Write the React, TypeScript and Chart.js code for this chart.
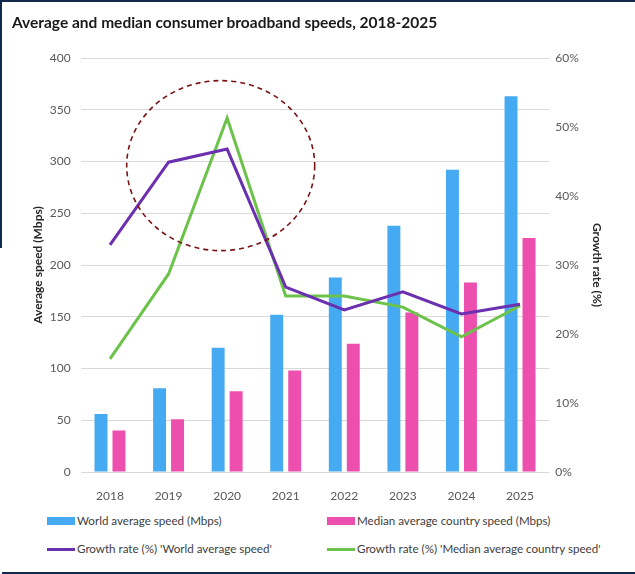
import React, { useEffect, useRef } from "react";
import { Chart, registerables } from "chart.js";

Chart.register(...registerables);

// ---- data ----
const YEARS = ["2018", "2019", "2020", "2021", "2022", "2023", "2024", "2025"];
const WORLD_AVG_SPEED = [56, 81, 120, 152, 188, 238, 292, 363];
const MEDIAN_COUNTRY_SPEED = [40, 51, 78, 98, 124, 154, 183, 226];
const GROWTH_WORLD = [32.9, 44.9, 46.8, 26.8, 23.5, 26.1, 22.9, 24.3];
const GROWTH_MEDIAN = [16.4, 28.7, 51.3, 25.5, 25.5, 23.9, 19.6, 24.1];
const SPEED_AXIS = { min: 0, max: 400, step: 50 };
const GROWTH_AXIS = { min: 0, max: 60, step: 10 };

const TITLE = "Average and median consumer broadband speeds, 2018-2025";
const LEGEND_LABELS = [
  "World average speed (Mbps)",
  "Median average country speed (Mbps)",
  "Growth rate (%) 'World average speed'",
  "Growth rate (%) 'Median average country speed'",
];

// highlight annotation (around the 2019-2020 growth peak)
const HIGHLIGHT = { index: 1.89, value: 296 };

const BLUE = "#46aaf2";
const PINK = "#ec4fae";
const PURPLE = "#6a30b0";
const GREEN = "#6cc24a";
const NAVY = "#13294b";
const FONT = "Lato, 'Open Sans', sans-serif";

const ellipsePlugin = {
  id: "highlightEllipse",
  afterDatasetsDraw(chart: any) {
    const xs = chart.scales.x;
    const ys = chart.scales.y;
    const i0 = Math.floor(HIGHLIGHT.index);
    const p0 = xs.getPixelForValue(i0);
    const p1 = xs.getPixelForValue(i0 + 1);
    const cx = p0 + (HIGHLIGHT.index - i0) * (p1 - p0);
    const cy = ys.getPixelForValue(HIGHLIGHT.value);
    const ctx = chart.ctx;
    ctx.save();
    ctx.setLineDash([5, 4]);
    ctx.strokeStyle = "#7a1414";
    ctx.lineWidth = 1.6;
    ctx.beginPath();
    ctx.ellipse(cx, cy, 94, 85, 0, 0, Math.PI * 2);
    ctx.stroke();
    ctx.restore();
  },
};

function ChartCanvas() {
  const ref = useRef<HTMLCanvasElement | null>(null);
  useEffect(() => {
    if (!ref.current) return;
    const tickFont = { family: FONT, size: 12 };
    const chart = new Chart(ref.current, {
      type: "bar",
      data: {
        labels: YEARS,
        datasets: [
          {
            type: "bar",
            label: LEGEND_LABELS[0],
            data: WORLD_AVG_SPEED,
            backgroundColor: BLUE,
            yAxisID: "y",
            order: 2,
            barPercentage: 0.72,
            categoryPercentage: 0.614,
          },
          {
            type: "bar",
            label: LEGEND_LABELS[1],
            data: MEDIAN_COUNTRY_SPEED,
            backgroundColor: PINK,
            yAxisID: "y",
            order: 2,
            barPercentage: 0.72,
            categoryPercentage: 0.614,
          },
          {
            type: "line",
            label: LEGEND_LABELS[2],
            data: GROWTH_WORLD,
            borderColor: PURPLE,
            backgroundColor: PURPLE,
            borderWidth: 3,
            pointRadius: 0,
            tension: 0,
            yAxisID: "y1",
            order: 0,
          },
          {
            type: "line",
            label: LEGEND_LABELS[3],
            data: GROWTH_MEDIAN,
            borderColor: GREEN,
            backgroundColor: GREEN,
            borderWidth: 3,
            pointRadius: 0,
            tension: 0,
            yAxisID: "y1",
            order: 1,
          },
        ] as any,
      },
      options: {
        animation: false,
        responsive: false,
        devicePixelRatio: 1,
        layout: { padding: { top: 58, left: 0, right: 0, bottom: 0 } },
        plugins: {
          legend: { display: false },
          tooltip: { enabled: false },
          title: { display: false },
        },
        scales: {
          x: {
            grid: { display: false },
            border: { display: false },
            ticks: { font: tickFont, color: "#595959", padding: 9 },
            afterFit: (s: any) => {
              s.height = 28;
            },
          },
          y: {
            position: "left",
            min: SPEED_AXIS.min,
            max: SPEED_AXIS.max,
            ticks: { stepSize: SPEED_AXIS.step, font: tickFont, color: "#595959", padding: 10 },
            grid: { color: "#d9d9d9", drawTicks: false, lineWidth: 1 },
            border: { display: false },
            title: {
              display: true,
              text: "Average speed (Mbps)",
              font: { family: FONT, size: 12, weight: "bold" },
              color: "#262626",
              padding: { top: 31, bottom: 0 },
            },
            afterFit: (s: any) => {
              s.width = 80.7;
            },
          },
          y1: {
            position: "right",
            min: GROWTH_AXIS.min,
            max: GROWTH_AXIS.max,
            ticks: {
              stepSize: GROWTH_AXIS.step,
              font: tickFont,
              color: "#595959",
              padding: 6,
              callback: (v: any) => v + "%",
            },
            grid: { drawOnChartArea: false, drawTicks: false },
            border: { display: false },
            title: {
              display: true,
              text: "Growth rate (%)",
              font: { family: FONT, size: 12, weight: "bold" },
              color: "#262626",
              padding: { top: 31, bottom: 0 },
            },
            afterFit: (s: any) => {
              s.width = 85.7;
            },
          },
        },
      } as any,
      plugins: [ellipsePlugin],
    });
    return () => chart.destroy();
  }, []);
  return (
    <canvas
      ref={ref}
      width={635}
      height={500}
      style={{ position: "absolute", left: 0, top: 0, width: 635, height: 500 }}
    />
  );
}

function LegendItem(props: { x: number; y: number; color: string; kind: "box" | "line"; text: string }) {
  const { x, y, color, kind, text } = props;
  const h = kind === "box" ? 8 : 3;
  return (
    <>
      <div
        style={{
          position: "absolute",
          left: x,
          top: y - h / 2,
          width: 28,
          height: h,
          background: color,
        }}
      />
      <div
        style={{
          position: "absolute",
          left: x + 30,
          top: y - 9,
          height: 18,
          lineHeight: "18px",
          fontFamily: FONT,
          fontSize: 11.6,
          color: "#404040",
          whiteSpace: "nowrap",
        }}
      >
        {text}
      </div>
    </>
  );
}

export default function App() {
  return (
    <div
      style={{
        position: "absolute",
        left: 0,
        top: 0,
        width: 635,
        height: 574,
        background: "#ffffff",
        overflow: "hidden",
      }}
    >
      <ChartCanvas />
      <div
        style={{
          position: "absolute",
          left: 12,
          top: 11,
          fontFamily: FONT,
          fontWeight: "bold",
          fontSize: 15.5,
          lineHeight: "22px",
          color: "#1a1a1a",
          whiteSpace: "nowrap",
        }}
      >
        {TITLE}
      </div>
      <LegendItem x={47} y={521} color={BLUE} kind="box" text={LEGEND_LABELS[0]} />
      <LegendItem x={327} y={521} color={PINK} kind="box" text={LEGEND_LABELS[1]} />
      <LegendItem x={47} y={549} color={PURPLE} kind="line" text={LEGEND_LABELS[2]} />
      <LegendItem x={327} y={549} color={GREEN} kind="line" text={LEGEND_LABELS[3]} />
      <div style={{ position: "absolute", left: 0, top: 0, width: 635, height: 2, background: NAVY }} />
      <div style={{ position: "absolute", left: 0, top: 0, width: 2, height: 248, background: NAVY }} />
      <div style={{ position: "absolute", left: 2, top: 572, width: 633, height: 2, background: NAVY }} />
    </div>
  );
}
